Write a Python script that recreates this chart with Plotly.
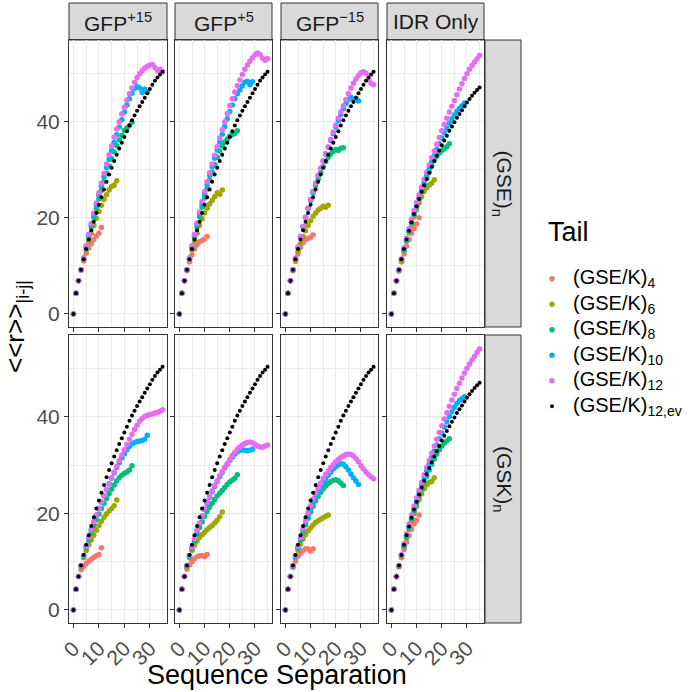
import plotly.graph_objects as go

# ---------------- data ----------------
tails = ["(GSE/K)<sub>4</sub>", "(GSE/K)<sub>6</sub>", "(GSE/K)<sub>8</sub>",
         "(GSE/K)<sub>10</sub>", "(GSE/K)<sub>12</sub>", "(GSE/K)<sub>12,ev</sub>"]
colors = ["#F8766D", "#A3A500", "#00BF7D", "#00B0F6", "#E76BF3", "#000000"]
columns = ["GFP<sup>+15</sup>", "GFP<sup>+5</sup>", "GFP<sup>\u221215</sup>", "IDR Only"]
rows = ["(GSE)<sub>n</sub>", "(GSK)<sub>n</sub>"]
x_ticks = [0, 10, 20, 30]
y_ticks = [0, 20, 40]

# excluded-volume reference curves
ev_gfp = [0, 4.3, 6.9, 9.2, 11.4, 13.5, 15.5, 17.4, 19.2, 21.0, 22.7, 24.3, 25.9, 27.5,
          29.0, 30.4, 31.8, 33.1, 34.4, 35.6, 36.8, 38.0, 39.2, 40.3, 41.3, 42.3, 43.2,
          44.1, 45.0, 45.9, 46.8, 47.7, 48.5, 49.2, 49.8, 50.4]
ev_idr = [0, 4.3, 6.9, 9.2, 11.4, 13.5, 15.5, 17.3, 19.1, 20.8, 22.4, 23.9, 25.4, 26.8,
          28.1, 29.4, 30.6, 31.8, 32.9, 34.0, 35.1, 36.1, 37.1, 38.1, 39.0, 39.9, 40.8,
          41.6, 42.4, 43.2, 44.0, 44.7, 45.4, 46.0, 46.6, 47.1]

# (GSE)n row
gse_p15_4 = [0, 4.3, 6.9, 9.1, 11.0, 12.6, 13.7, 14.6, 15.5, 16.2, 16.8, 18.0]
gse_p15_6 = [0, 4.3, 6.9, 9.2, 11.4, 13.3, 15.1, 16.8, 18.4, 19.9, 21.3, 22.6, 23.8, 24.8,
             25.8, 26.5, 26.8, 27.7]
gse_p15_8 = [0, 4.3, 6.9, 9.2, 11.5, 13.8, 16.0, 18.1, 20.1, 22.0, 23.9, 25.7, 27.5, 29.2,
             30.8, 32.3, 33.7, 35.0, 36.2, 37.2, 38.2, 38.7, 39.2, 39.9]
gse_p15_10 = [0, 4.3, 6.9, 9.2, 11.6, 14.0, 16.3, 18.5, 20.6, 22.7, 24.7, 26.6, 28.5, 30.4,
              32.2, 34.0, 35.7, 37.3, 38.9, 40.4, 42.0, 43.5, 44.8, 45.9, 46.9, 47.3, 47.0,
              46.1, 46.8, 46.3]
gse_p15_12 = [0, 4.3, 6.9, 9.2, 11.7, 14.2, 16.6, 18.8, 21.0, 23.1, 25.2, 27.2, 29.2, 31.2,
              33.1, 35.0, 36.8, 38.5, 40.0, 41.6, 43.0, 44.5, 45.8, 47.0, 48.2, 49.2, 50.0,
              50.6, 51.1, 51.5, 51.8, 51.9, 51.3, 50.6, 50.9, 50.4]

gse_p5_4 = [0, 4.3, 6.9, 9.0, 10.8, 12.3, 13.5, 14.4, 15.0, 15.3, 15.6, 16.1]
gse_p5_6 = [0, 4.3, 6.9, 9.2, 11.4, 13.3, 15.1, 16.8, 18.4, 19.8, 21.0, 22.0, 22.9, 23.6,
            24.4, 25.2, 24.9, 25.8]
gse_p5_8 = [0, 4.3, 6.9, 9.2, 11.5, 13.8, 16.0, 18.1, 20.2, 22.2, 24.1, 26.0, 27.8, 29.5,
            31.1, 32.6, 33.9, 35.0, 35.8, 36.4, 37.0, 37.3, 37.6, 38.1]
gse_p5_10 = [0, 4.3, 6.9, 9.2, 11.6, 14.0, 16.4, 18.6, 20.8, 22.9, 24.9, 26.9, 28.8, 30.6,
             32.4, 34.1, 35.8, 37.4, 39.0, 40.6, 42.1, 43.5, 44.8, 45.8, 46.6, 47.5, 48.2,
             48.4, 47.7, 48.3]
gse_p5_12 = [0, 4.3, 6.9, 9.2, 11.7, 14.2, 16.6, 18.9, 21.2, 23.4, 25.5, 27.5, 29.4, 31.2,
             33.0, 34.8, 36.6, 38.3, 40.0, 41.7, 43.3, 44.8, 46.2, 47.5, 48.7, 49.8, 50.9,
             51.8, 52.6, 53.3, 53.9, 54.3, 54.0, 53.2, 52.8, 53.1]

gse_m15_4 = [0, 4.3, 6.9, 9.0, 10.9, 12.5, 13.8, 14.8, 15.5, 15.7, 15.9, 16.4]
gse_m15_6 = [0, 4.3, 6.9, 9.1, 11.2, 13.0, 14.6, 16.1, 17.3, 18.4, 19.4, 20.3, 21.0, 21.6,
             22.0, 22.4, 22.2, 22.6]
gse_m15_8 = [0, 4.3, 6.9, 9.2, 11.5, 13.8, 16.0, 18.1, 20.0, 21.9, 23.6, 25.2, 26.7, 28.1,
             29.4, 30.6, 31.7, 32.6, 33.3, 33.8, 34.2, 34.0, 34.5, 34.6]
gse_m15_10 = [0, 4.3, 6.9, 9.2, 11.6, 13.9, 16.1, 18.2, 20.1, 22.0, 23.8, 25.5, 27.2, 28.8,
              30.3, 31.8, 33.3, 34.7, 36.1, 37.5, 38.9, 40.2, 41.5, 42.7, 43.8, 44.6, 45.1,
              44.6, 44.9, 44.3]
gse_m15_12 = [0, 4.3, 6.9, 9.2, 11.6, 13.9, 16.1, 18.2, 20.1, 22.0, 23.8, 25.5, 27.2, 28.8,
              30.3, 31.8, 33.3, 34.8, 36.3, 37.8, 39.3, 40.7, 42.0, 43.3, 44.6, 45.8, 47.0,
              48.0, 48.9, 49.6, 50.2, 50.4, 50.1, 48.8, 48.0, 47.7]

gse_idr_4 = [0, 4.3, 6.8, 8.9, 10.8, 12.5, 14.1, 15.5, 16.8, 17.8, 18.7, 20.0]
gse_idr_6 = [0, 4.3, 6.9, 9.1, 11.2, 13.2, 15.1, 16.9, 18.6, 20.2, 21.7, 23.1, 24.4, 25.5,
             26.2, 26.8, 27.2, 27.9]
gse_idr_8 = [0, 4.3, 6.9, 9.1, 11.3, 13.3, 15.3, 17.2, 19.0, 20.7, 22.3, 23.9, 25.4, 26.8,
             28.2, 29.5, 30.8, 31.9, 32.8, 33.5, 34.0, 34.3, 34.8, 35.4]
gse_idr_10 = [0, 4.3, 6.9, 9.1, 11.3, 13.4, 15.4, 17.3, 19.1, 20.9, 22.6, 24.2, 25.8, 27.3,
              28.8, 30.2, 31.6, 32.9, 34.2, 35.4, 36.6, 37.7, 38.7, 39.7, 40.6, 41.4, 42.2,
              42.8, 43.3, 43.9]
gse_idr_12 = [0, 4.3, 6.9, 9.2, 11.5, 13.7, 15.8, 17.8, 19.7, 21.5, 23.2, 24.8, 26.4, 28.0,
              29.5, 31.0, 32.5, 33.9, 35.3, 36.7, 38.1, 39.4, 40.7, 42.0, 43.2, 44.4, 45.6,
              46.8, 47.9, 49.0, 50.0, 50.9, 51.7, 52.4, 53.1, 53.8]

# (GSK)n row
gsk_p15_4 = [0, 4.3, 6.9, 8.3, 9.0, 9.6, 10.1, 10.5, 10.9, 11.2, 11.5, 12.9]
gsk_p15_6 = [0, 4.3, 6.9, 9.0, 10.8, 12.3, 13.5, 14.5, 15.5, 16.5, 17.5, 18.4, 19.2, 19.9,
             20.5, 21.0, 21.6, 22.8]
gsk_p15_8 = [0, 4.3, 6.9, 9.1, 11.1, 12.9, 14.5, 16.0, 17.4, 18.7, 19.9, 21.0, 22.1, 23.1,
             24.1, 25.0, 25.9, 26.7, 27.4, 27.9, 28.3, 28.6, 29.0, 29.9]
gsk_p15_10 = [0, 4.3, 6.9, 9.2, 11.3, 13.2, 15.0, 16.6, 18.2, 19.6, 21.0, 22.3, 23.6, 24.9,
              26.1, 27.3, 28.4, 29.5, 30.5, 31.5, 32.4, 33.2, 33.9, 34.4, 34.7, 34.9, 35.0,
              35.1, 35.4, 36.2]
gsk_p15_12 = [0, 4.3, 6.9, 9.2, 11.3, 13.2, 15.0, 16.6, 18.2, 19.7, 21.1, 22.4, 23.7, 25.0,
              26.2, 27.4, 28.6, 29.8, 31.0, 32.1, 33.2, 34.3, 35.4, 36.4, 37.4, 38.3, 39.1,
              39.7, 40.1, 40.3, 40.5, 40.6, 40.8, 41.0, 41.2, 41.5]

gsk_p5_4 = [0, 4.3, 6.9, 8.4, 9.3, 10.0, 10.6, 11.0, 11.2, 11.3, 11.0, 11.5]
gsk_p5_6 = [0, 4.3, 6.9, 9.0, 10.8, 12.3, 13.4, 14.3, 15.0, 15.6, 16.1, 16.6, 17.1, 17.5,
            18.0, 18.6, 19.3, 20.3]
gsk_p5_8 = [0, 4.3, 6.9, 9.1, 11.0, 12.7, 14.3, 15.8, 17.1, 18.3, 19.4, 20.4, 21.3, 22.1,
            22.9, 23.6, 24.2, 24.8, 25.4, 26.0, 26.5, 26.9, 27.3, 28.0]
gsk_p5_10 = [0, 4.3, 6.9, 9.2, 11.2, 13.0, 14.8, 16.4, 17.9, 19.4, 20.8, 22.1, 23.3, 24.5,
             25.6, 26.6, 27.6, 28.5, 29.4, 30.2, 31.0, 31.7, 32.3, 32.8, 33.1, 33.2, 33.1,
             33.0, 33.1, 33.3]
gsk_p5_12 = [0, 4.3, 6.9, 9.2, 11.2, 13.0, 14.8, 16.5, 18.0, 19.5, 21.0, 22.3, 23.5, 24.7,
             25.8, 26.8, 27.8, 28.7, 29.6, 30.4, 31.2, 32.0, 32.7, 33.3, 33.8, 34.2, 34.5,
             34.7, 34.8, 34.6, 34.3, 34.0, 33.8, 33.7, 34.0, 34.2]

gsk_m15_4 = [0, 4.3, 6.9, 8.8, 10.1, 11.1, 11.8, 12.3, 12.7, 12.6, 12.2, 12.7]
gsk_m15_6 = [0, 4.3, 6.9, 9.0, 10.8, 12.3, 13.6, 14.7, 15.6, 16.4, 17.0, 17.6, 18.1, 18.5,
             18.8, 19.1, 19.4, 19.7]
gsk_m15_8 = [0, 4.3, 6.9, 9.1, 11.0, 12.8, 14.5, 16.1, 17.6, 19.0, 20.3, 21.5, 22.6, 23.5,
             24.4, 25.1, 25.7, 26.2, 26.6, 26.9, 27.0, 26.8, 26.3, 25.8]
gsk_m15_10 = [0, 4.3, 6.9, 9.1, 11.1, 13.0, 14.8, 16.5, 18.1, 19.6, 21.0, 22.3, 23.5, 24.6,
              25.5, 26.4, 27.2, 27.9, 28.6, 29.2, 29.7, 30.1, 30.3, 30.2, 29.7, 29.0, 28.2,
              27.4, 26.7, 26.0]
gsk_m15_12 = [0, 4.3, 6.9, 9.2, 11.2, 13.2, 15.0, 16.8, 18.5, 20.1, 21.6, 23.0, 24.2, 25.3,
              26.3, 27.3, 28.1, 28.8, 29.5, 30.1, 30.7, 31.2, 31.6, 31.9, 32.2, 32.3, 32.2,
              31.9, 31.4, 30.7, 29.9, 29.2, 28.6, 28.0, 27.6, 27.2]

gsk_idr_4 = [0, 4.3, 6.8, 8.9, 10.8, 12.5, 14.0, 15.4, 16.7, 17.8, 18.6, 19.7]
gsk_idr_6 = [0, 4.3, 6.9, 9.1, 11.2, 13.1, 14.9, 16.7, 18.4, 20.0, 21.5, 22.9, 24.1, 25.1,
             25.9, 26.4, 26.6, 27.4]
gsk_idr_8 = [0, 4.3, 6.9, 9.1, 11.3, 13.3, 15.2, 17.0, 18.8, 20.5, 22.1, 23.6, 25.0, 26.4,
             27.7, 29.0, 30.2, 31.3, 32.3, 33.2, 34.0, 34.6, 35.0, 35.5]
gsk_idr_10 = [0, 4.3, 6.9, 9.1, 11.3, 13.4, 15.4, 17.3, 19.1, 20.9, 22.6, 24.2, 25.8, 27.3,
              28.8, 30.2, 31.6, 32.9, 34.2, 35.5, 36.7, 37.9, 39.0, 40.1, 41.1, 42.0, 42.8,
              43.4, 43.8, 44.2]
gsk_idr_12 = [0, 4.3, 6.9, 9.2, 11.5, 13.7, 15.8, 17.8, 19.7, 21.5, 23.2, 24.8, 26.4, 28.0,
              29.5, 31.0, 32.5, 34.0, 35.4, 36.8, 38.2, 39.6, 40.9, 42.2, 43.5, 44.7, 45.9,
              47.0, 48.1, 49.1, 50.1, 51.0, 51.8, 52.6, 53.4, 54.1]

panels = [
    [[gse_p15_4, gse_p15_6, gse_p15_8, gse_p15_10, gse_p15_12, ev_gfp],
     [gse_p5_4, gse_p5_6, gse_p5_8, gse_p5_10, gse_p5_12, ev_gfp],
     [gse_m15_4, gse_m15_6, gse_m15_8, gse_m15_10, gse_m15_12, ev_gfp],
     [gse_idr_4, gse_idr_6, gse_idr_8, gse_idr_10, gse_idr_12, ev_idr]],
    [[gsk_p15_4, gsk_p15_6, gsk_p15_8, gsk_p15_10, gsk_p15_12, ev_gfp],
     [gsk_p5_4, gsk_p5_6, gsk_p5_8, gsk_p5_10, gsk_p5_12, ev_gfp],
     [gsk_m15_4, gsk_m15_6, gsk_m15_8, gsk_m15_10, gsk_m15_12, ev_gfp],
     [gsk_idr_4, gsk_idr_6, gsk_idr_8, gsk_idr_10, gsk_idr_12, ev_idr]],
]

# ---------------- layout geometry (pixels) ----------------
W, H = 688, 692
col_px = [(69, 167), (175, 272), (281, 378), (387, 484)]
row_px = [(40, 327), (335, 623)]
strip_top = (3, 40)
strip_right = (485, 521)
legend_px_x = (545, 688)
legend_px_y = (266, 419)

FONT = "Liberation Sans, Arial, sans-serif"
BORDER = "#333333"
GRID = "#EBEBEB"
STRIP_BG = "#D9D9D9"


def px_x(p):
    return p / W


def px_y(p):
    return 1 - p / H


fig = go.Figure()
layout = {}
for r in range(2):
    for c in range(4):
        k = r * 4 + c + 1
        xa = "xaxis" if k == 1 else f"xaxis{k}"
        ya = "yaxis" if k == 1 else f"yaxis{k}"
        xref = "x" if k == 1 else f"x{k}"
        yref = "y" if k == 1 else f"y{k}"
        layout[xa] = dict(
            domain=[px_x(col_px[c][0]), px_x(col_px[c][1])],
            anchor=yref, range=[-1.75, 36.75], automargin=False,
            tickvals=x_ticks, ticktext=[str(v) for v in x_ticks],
            showticklabels=(r == 1), tickangle=-45,
            ticks="outside", ticklen=4, tickcolor=BORDER,
            tickfont=dict(family=FONT, size=21, color="#4D4D4D"),
            showgrid=True, gridcolor=GRID, gridwidth=1.4,
            minor=dict(dtick=10, tick0=5, showgrid=True, gridcolor=GRID, gridwidth=0.7),
            showline=True, mirror=True, linecolor=BORDER, linewidth=1,
            zeroline=False,
        )
        layout[ya] = dict(
            domain=[px_y(row_px[r][1]), px_y(row_px[r][0])],
            anchor=xref, range=[-2.72, 57.0], automargin=False,
            tickvals=y_ticks, ticktext=[str(v) for v in y_ticks],
            showticklabels=(c == 0),
            ticks="outside", ticklen=4, tickcolor=BORDER,
            tickfont=dict(family=FONT, size=21, color="#4D4D4D"),
            showgrid=True, gridcolor=GRID, gridwidth=1.4,
            minor=dict(dtick=20, tick0=10, showgrid=True, gridcolor=GRID, gridwidth=0.7),
            showline=True, mirror=True, linecolor=BORDER, linewidth=1,
            zeroline=False,
        )
        for s, vals in enumerate(panels[r][c]):
            fig.add_trace(go.Scatter(
                x=list(range(len(vals))), y=vals, mode="markers",
                xaxis=xref, yaxis=yref,
                marker=dict(color=colors[s], size=5.5 if s < 5 else 4, line=dict(width=0)),
                name=tails[s], showlegend=False,
            ))

# ---- legend (keys on their own hidden axis, one row per tail category) ----
key_rows = list(range(len(tails)))
layout["xaxis9"] = dict(domain=[px_x(legend_px_x[0]), px_x(legend_px_x[1])],
                        range=[0, legend_px_x[1] - legend_px_x[0]], visible=False,
                        anchor="y9", automargin=False, fixedrange=True)
layout["yaxis9"] = dict(domain=[px_y(legend_px_y[1]), px_y(legend_px_y[0])],
                        range=[len(tails) - 0.5, -0.5], visible=False,
                        anchor="x9", automargin=False, fixedrange=True)
for s in key_rows:
    fig.add_trace(go.Scatter(x=[7], y=[s], mode="markers", xaxis="x9", yaxis="y9",
                             marker=dict(color=colors[s], size=5.5 if s < 5 else 4),
                             showlegend=False, hoverinfo="skip"))

shapes = []
annotations = []
for s in key_rows:
    annotations.append(dict(text=tails[s], xref="x9", yref="y9", x=26, y=s,
                            showarrow=False, xanchor="left", yanchor="middle",
                            font=dict(family=FONT, size=20, color="#000000")))
annotations.append(dict(text="Tail", xref="paper", yref="paper",
                        x=px_x(546), y=px_y(232), showarrow=False,
                        xanchor="left", yanchor="middle",
                        font=dict(family=FONT, size=27, color="#000000")))

# top strips
for c in range(4):
    shapes.append(dict(type="rect", xref="paper", yref="paper",
                       x0=px_x(col_px[c][0]), x1=px_x(col_px[c][1]),
                       y0=px_y(strip_top[1]), y1=px_y(strip_top[0]),
                       fillcolor=STRIP_BG, line=dict(color=BORDER, width=1), layer="below"))
    annotations.append(dict(text=columns[c], xref="paper", yref="paper",
                            x=px_x((col_px[c][0] + col_px[c][1]) / 2), y=px_y(22),
                            showarrow=False, xanchor="center", yanchor="middle",
                            font=dict(family=FONT, size=21, color="#1A1A1A")))
# right strips
for r in range(2):
    shapes.append(dict(type="rect", xref="paper", yref="paper",
                       x0=px_x(strip_right[0]), x1=px_x(strip_right[1]),
                       y0=px_y(row_px[r][1]), y1=px_y(row_px[r][0]),
                       fillcolor=STRIP_BG, line=dict(color=BORDER, width=1), layer="below"))
    annotations.append(dict(text=rows[r], xref="paper", yref="paper",
                            x=px_x(503), y=px_y((row_px[r][0] + row_px[r][1]) / 2),
                            showarrow=False, textangle=90, xanchor="center", yanchor="middle",
                            font=dict(family=FONT, size=21, color="#1A1A1A")))

annotations.append(dict(text="Sequence Separation", xref="paper", yref="paper",
                        x=px_x(277), y=px_y(675), showarrow=False,
                        xanchor="center", yanchor="middle",
                        font=dict(family=FONT, size=27, color="#000000")))
annotations.append(dict(text="<<r>><sub>|i-j|</sub>", xref="paper", yref="paper",
                        x=px_x(16), y=px_y(327), showarrow=False, textangle=-90,
                        xanchor="center", yanchor="middle",
                        font=dict(family=FONT, size=26, color="#000000")))

fig.update_layout(
    width=W, height=H, margin=dict(l=0, r=0, t=0, b=0, autoexpand=False),
    paper_bgcolor="white", plot_bgcolor="white",
    shapes=shapes, annotations=annotations, showlegend=False,
    **layout,
)

fig.write_html("out.html",
               config={"displayModeBar": False},
               post_script="document.body.style.margin='0px';"
                           "document.body.style.overflow='hidden';")
